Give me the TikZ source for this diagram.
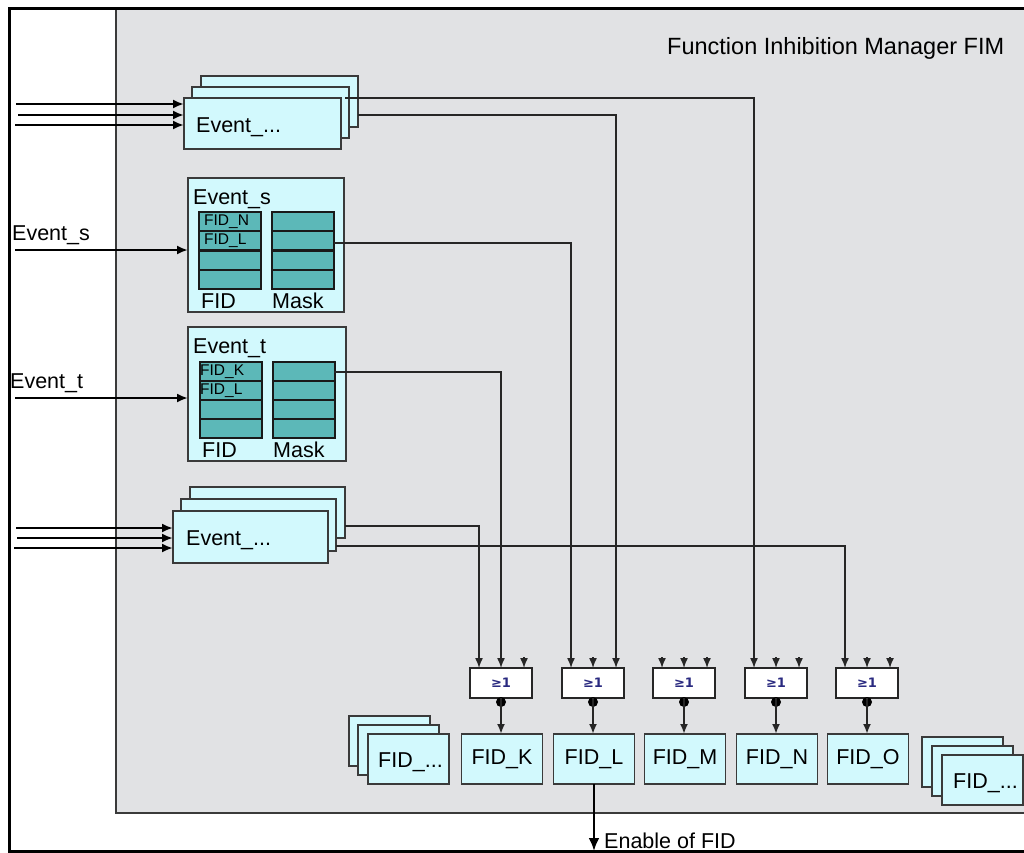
\documentclass[tikz,border=0pt]{standalone}
\usepackage{fontspec}
\setmainfont{Liberation Sans}
\newfontfamily\gatefont{DejaVu Sans}
\usetikzlibrary{arrows.meta}
\definecolor{bgc}{HTML}{E1E2E4}
\definecolor{cyanf}{HTML}{D2F9FD}
\definecolor{tealf}{HTML}{5CB8B8}
\definecolor{edgec}{HTML}{3A3A3A}
\definecolor{gatetxt}{HTML}{2A2A80}
\newcommand\mybig{\fontsize{21.5}{24}\selectfont}
\newcommand\mysmall{\fontsize{15.5}{17}\selectfont}
\begin{document}
\begin{tikzpicture}[x=1pt,y=-1pt,
 box/.style={draw=edgec, fill=cyanf, line width=1.6pt, inner sep=0pt, outer sep=0pt, anchor=north west},
 cell/.style={draw=black!90, fill=tealf, line width=2.2pt, inner sep=0pt, outer sep=0pt, anchor=north west, minimum width=62pt, minimum height=19.25pt},
 gatebox/.style={draw=black!85, fill=white, line width=1.6pt, minimum width=62pt, minimum height=30pt, inner sep=0pt, outer sep=0pt, anchor=north, font=\gatefont\bfseries\fontsize{13}{14}\selectfont, text=gatetxt},
 fidbox/.style={box, anchor=north, minimum width=81pt, minimum height=50pt, font=\mybig},
 lbl/.style={inner sep=0pt, anchor=base west, font=\mybig},
 smalltxt/.style={inner sep=0pt, anchor=west, font=\mysmall},
 inarrow/.style={line width=2.6pt, -{Latex[length=11pt,width=9pt]}},
 conn/.style={draw=black!85, line width=1.5pt, -{Latex[length=10pt,width=8pt]}},
 outarrow/.style={line width=2.8pt, -{Latex[length=13pt,width=11pt]}},
]
\useasboundingbox (0,0) rectangle (1024,852);
% background and frame
\fill[white] (0,0) rectangle (1024,852);
\filldraw[fill=bgc, draw=edgec, line width=1.8pt] (116,8) rectangle (1040,813);
\draw[black, line width=3pt] (9,8) rectangle (1040,851);
\node[inner sep=0pt, anchor=base west, font=\fontsize{23.5}{26}\selectfont] (title) at (667,54) {Function Inhibition Manager FIM};

% top event stack
\node[box, minimum width=157pt, minimum height=51pt] (ev1b) at (201,76) {};
\node[box, minimum width=157pt, minimum height=51pt] (ev1m) at (192,87) {};
\node[box, minimum width=157pt, minimum height=51pt] (ev1f) at (184,98) {};
\node[lbl] (ev1t) at (196,132) {Event\_...};
\coordinate (i11) at (16,104);
\coordinate (i12) at (18,115);
\coordinate (i13) at (15,125);
\draw[inarrow] (i11) -- (i11 -| ev1f.west);
\draw[inarrow] (i12) -- (i12 -| ev1f.west);
\draw[inarrow] (i13) -- (i13 -| ev1f.west);

% Event_s
\node[box, minimum width=156pt, minimum height=134pt] (evs) at (188,178) {};
\node[lbl] (evst) at (193,204) {Event\_s};
\node[cell] (sf1) at (199,212) {};
\node[cell] (sf2) at (199,231.25) {};
\node[cell] (sf3) at (199,250.5) {};
\node[cell] (sf4) at (199,269.75) {};
\node[cell] (sm1) at (272,212) {};
\node[cell] (sm2) at (272,231.25) {};
\node[cell] (sm3) at (272,250.5) {};
\node[cell] (sm4) at (272,269.75) {};
\node[smalltxt] (sfn) at (204,221.6) {FID\_N};
\node[smalltxt] (sfl) at (204,240.9) {FID\_L};
\node[lbl] (sfid) at (201,308) {FID};
\node[lbl] (smask) at (272,308) {Mask};
\node[lbl] (evsl) at (12,240) {Event\_s};
\coordinate (is) at (15,250);
\draw[inarrow] (is) -- (is -| evs.west);

% Event_t
\node[box, minimum width=158pt, minimum height=134pt] (evt) at (188,327) {};
\node[lbl] (evtt) at (193,353) {Event\_t};
\node[cell] (tf1) at (200,362) {};
\node[cell] (tf2) at (200,381) {};
\node[cell] (tf3) at (200,400) {};
\node[cell] (tf4) at (200,419) {};
\node[cell] (tm1) at (273,362) {};
\node[cell] (tm2) at (273,381) {};
\node[cell] (tm3) at (273,400) {};
\node[cell] (tm4) at (273,419) {};
\node[smalltxt] (tfk) at (200,371.5) {FID\_K};
\node[smalltxt] (tfl) at (200,390.5) {FID\_L};
\node[lbl] (tfid) at (202,457) {FID};
\node[lbl] (tmask) at (273,457) {Mask};
\node[lbl] (evtl) at (10,388) {Event\_t};
\coordinate (it) at (15,398);
\draw[inarrow] (it) -- (it -| evt.west);

% bottom event stack
\node[box, minimum width=155pt, minimum height=51pt] (ev2b) at (190,487) {};
\node[box, minimum width=155pt, minimum height=52pt] (ev2m) at (181,499) {};
\node[box, minimum width=155pt, minimum height=52pt] (ev2f) at (173,511) {};
\node[lbl] (ev2t) at (186,545) {Event\_...};
\coordinate (i21) at (16,528);
\coordinate (i22) at (17,538);
\coordinate (i23) at (14,548);
\draw[inarrow] (i21) -- (i21 -| ev2f.west);
\draw[inarrow] (i22) -- (i22 -| ev2f.west);
\draw[inarrow] (i23) -- (i23 -| ev2f.west);

% gates
\node[gatebox] (gK) at (501,668) {≥1};
\node[gatebox] (gL) at (593,668) {≥1};
\node[gatebox] (gM) at (684,668) {≥1};
\node[gatebox] (gN) at (776,668) {≥1};
\node[gatebox] (gO) at (867,668) {≥1};

% FID boxes
\node[fidbox] (fK) at (502,734) {FID\_K};
\node[fidbox] (fL) at (594,734) {FID\_L};
\node[fidbox] (fM) at (685,734) {FID\_M};
\node[fidbox] (fN) at (777,734) {FID\_N};
\node[fidbox] (fO) at (868,734) {FID\_O};

% left FID stack
\node[box, minimum width=81pt, minimum height=50pt] (fl1) at (349,716) {};
\node[box, minimum width=81pt, minimum height=50pt] (fl2) at (358,725) {};
\node[box, minimum width=81pt, minimum height=50pt] (fl3) at (368,734) {};
\node[lbl] (fl3t) at (378,767) {FID\_...};
% right FID stack
\node[box, minimum width=81pt, minimum height=50pt] (fr1) at (922,737) {};
\node[box, minimum width=81pt, minimum height=50pt] (fr2) at (932,746) {};
\node[box, minimum width=81pt, minimum height=50pt] (fr3) at (942,755) {};
\node[lbl] (fr3t) at (953,788) {FID\_...};

% connections into gates
\coordinate (a1) at (345,98);
\draw[conn] (a1) -| ([xshift=-22pt]gN.north);
\coordinate (a2) at (358,115);
\draw[conn] (a2) -| ([xshift=23pt]gL.north);
\coordinate (sout) at (334,243);
\draw[conn] (sout) -| ([xshift=-22pt]gL.north);
\coordinate (tout) at (334,372);
\draw[conn] (tout) -| (gK.north);
\coordinate (b1) at (345,526);
\draw[conn] (b1) -| ([xshift=-22pt]gK.north);
\coordinate (b2) at (336,546);
\draw[conn] (b2) -| ([xshift=-22pt]gO.north);

% unconnected input stubs
\foreach \g/\dx in {gK/23, gL/0, gM/-22, gM/0, gM/23, gN/0, gN/23, gO/0, gO/23}{
  \draw[conn] ([xshift=\dx pt, yshift=11pt]\g.north) -- ([xshift=\dx pt]\g.north);
}

% gate outputs
\foreach \g/\f in {gK/fK, gL/fL, gM/fM, gN/fN, gO/fO}{
  \fill[black] ([yshift=-4pt]\g.south) circle (5pt);
  \draw[conn, line width=2.4pt] (\g.south) -- (\g.south |- \f.north);
}

% enable output
\coordinate (en) at (594,851);
\draw[outarrow] (fL.south) -- (en);
\node[lbl] (enl) at (604,848) {Enable of FID};
\end{tikzpicture}
\end{document}
